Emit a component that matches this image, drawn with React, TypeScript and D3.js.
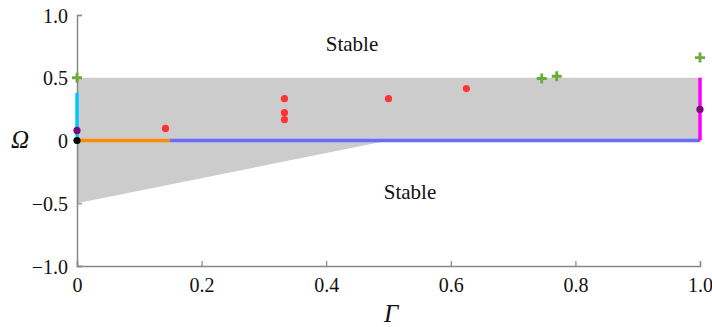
import React, { useEffect, useRef } from "react";
import * as d3 from "d3";

// stability region (grey) outline, in (Γ, Ω)
const regionGamma = [0, 1, 1, 0.5, 0];
const regionOmega = [0.5, 0.5, 0, 0, -0.5];

// coloured boundary segments
const segments = [
  { g: [0, 0], o: [0.03, 0.38], color: "#00c8ff" },
  { g: [0, 0.149], o: [0, 0], color: "#ff8c00" },
  { g: [0.149, 1], o: [0, 0], color: "#6b6bff" },
  { g: [1, 1], o: [0, 0.5], color: "#ff00ff" },
];

const redGamma = [0.142, 0.333, 0.333, 0.333, 0.5, 0.625];
const redOmega = [0.096, 0.333, 0.222, 0.167, 0.333, 0.414];

const crossGamma = [0, 0.746, 0.77, 1.0];
const crossOmega = [0.5, 0.494, 0.512, 0.661];

const purpleGamma = [0, 1];
const purpleOmega = [0.08, 0.248];

const blackGamma = [0];
const blackOmega = [0];

const xTicks = [0, 0.2, 0.4, 0.6, 0.8, 1.0];
const xTickLabels = ["0", "0.2", "0.4", "0.6", "0.8", "1.0"];
const yTicks = [1, 0.5, 0, -0.5, -1];
const yTickLabels = ["1.0", "0.5", "0", "\u22120.5", "\u22121.0"];

const App = () => {
  const ref = useRef<SVGSVGElement>(null);

  useEffect(() => {
    const svg = d3.select(ref.current);
    svg.selectAll("*").remove();

    const x = d3.scaleLinear().domain([0, 1]).range([77, 700]);
    const y = d3.scaleLinear().domain([-1, 1]).range([266, 15]);
    const font = "Times New Roman, Liberation Serif, serif";

    // grey region
    const line = d3.line<number>().x(i => x(regionGamma[i])).y(i => y(regionOmega[i]));
    svg
      .append("path")
      .attr("d", line(regionGamma.map((_, i) => i)) + "Z")
      .attr("fill", "#cccccc");

    // axes
    const xAxis = d3
      .axisBottom(x)
      .tickValues(xTicks)
      .tickSize(-5)
      .tickFormat((_, i) => xTickLabels[i]);
    const gx = svg.append("g").attr("transform", "translate(0,266)").call(xAxis)
      .attr("font-family", font);
    gx.select(".domain").attr("stroke", "#888").attr("stroke-width", 1.5);
    gx.selectAll(".tick line").attr("stroke", "#888").attr("stroke-width", 1.2);
    gx.selectAll(".tick text")
      .style("font-family", font)
      .attr("font-size", 20)
      .attr("fill", "#111")
      .attr("y", 12)
      .attr("dy", "0.71em");

    const yAxis = d3
      .axisLeft(y)
      .tickValues(yTicks)
      .tickSize(-5)
      .tickFormat((_, i) => yTickLabels[i]);
    const gy = svg.append("g").attr("transform", "translate(77,0)").call(yAxis)
      .attr("font-family", font);
    gy.select(".domain").attr("stroke", "#888").attr("stroke-width", 1.5);
    gy.selectAll(".tick line").attr("stroke", "#888").attr("stroke-width", 1.2);
    gy.selectAll(".tick text")
      .style("font-family", font)
      .attr("font-size", 20)
      .attr("fill", "#111")
      .attr("x", -9)
      .attr("dy", "0.35em");

    // boundary segments
    segments.forEach(s => {
      svg
        .append("line")
        .attr("x1", x(s.g[0]))
        .attr("x2", x(s.g[1]))
        .attr("y1", y(s.o[0]))
        .attr("y2", y(s.o[1]))
        .attr("stroke", s.color)
        .attr("stroke-width", 3.5);
    });

    // points
    const dots = (gs: number[], os: number[], color: string) =>
      svg
        .append("g")
        .selectAll("circle")
        .data(gs)
        .enter()
        .append("circle")
        .attr("cx", d => x(d))
        .attr("cy", (_, i) => y(os[i]))
        .attr("r", 3.6)
        .attr("fill", color);
    dots(redGamma, redOmega, "#ff3333");
    dots(purpleGamma, purpleOmega, "#7a0a7a");
    dots(blackGamma, blackOmega, "#000");

    const cross = svg.append("g").selectAll("g").data(crossGamma).enter().append("g")
      .attr("transform", (d, i) => `translate(${x(d)},${y(crossOmega[i])})`);
    cross.append("path")
      .attr("d", "M-5,0H5M0,-5V5")
      .attr("stroke", "#6aab3a")
      .attr("stroke-width", 2.8);

    // labels
    const label = (tx: number, ty: number, txt: string, size: number, italic = false) =>
      svg.append("text").attr("x", tx).attr("y", ty).attr("text-anchor", "middle")
        .style("font-family", font).attr("font-size", size)
        .attr("font-style", italic ? "italic" : "normal").attr("fill", "#111").text(txt);
    label(352, 51, "Stable", 21);
    label(410, 199, "Stable", 21);
    label(20, 148, "Ω", 25, true);
    label(391, 322, "Γ", 25, true);
  }, []);

  return (
    <svg
      ref={ref}
      width={712}
      height={327}
      style={{ position: "absolute", left: 0, top: 0, background: "#fff" }}
    />
  );
};

export default App;
